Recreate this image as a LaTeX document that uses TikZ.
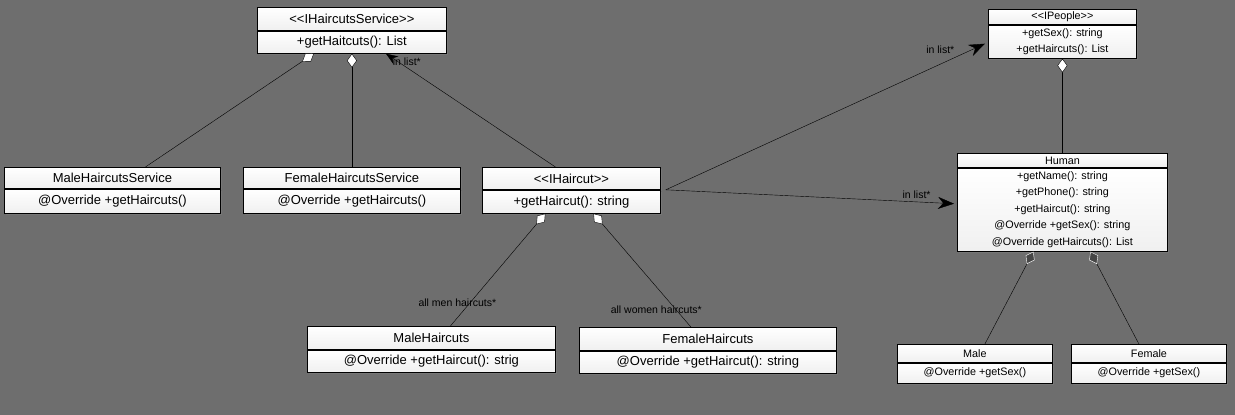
\documentclass[tikz,border=0pt]{standalone}
\usepackage{fontspec}
\setmainfont{Liberation Sans}
\usepackage{xcolor}
\usepackage{tikz}
\usetikzlibrary{arrows.meta,shadows,positioning}

\definecolor{bggray}{RGB}{110,110,110}
\definecolor{aggdark}{RGB}{70,70,70}

\tikzset{
  cls/.style={draw=black, line width=0.8pt, top color=white, bottom color=gray!12,
    inner sep=0pt, align=center, anchor=north west,
    drop shadow={opacity=0.55, shadow xshift=2pt, shadow yshift=-2pt}},
  bigtxt/.style={font=\fontsize{13}{15}\selectfont},
  smalltxt/.style={font=\fontsize{10.8}{16.5}\selectfont},
  lbl/.style={font=\fontsize{10.5}{12}\selectfont, inner sep=0pt},
  agg/.style={{Diamond[fill=white,length=14pt,width=10pt]}-, thin},
  aggfill/.style={{Diamond[fill=aggdark,color=white,length=14pt,width=10pt]}-, thin},
  inlist/.style={-{Stealth[length=16pt,width=12pt]}, thin},
  inlistsmall/.style={-{Stealth[length=12pt,width=9pt]}, thin}
}

\begin{document}
\begin{tikzpicture}[x=1pt,y=-1pt]
                \fill[bggray] (0,0) rectangle (1235,415);
                \useasboundingbox (0,0) rectangle (1235,415);

                % interfaces
                \node[cls, bigtxt, minimum width=189pt, minimum height=23pt] (ihs) at (257,7) {<{}<IHaircutsService>{}>};
                \node[cls, bigtxt, minimum width=189pt, minimum height=22pt] (ihsb) at (ihs.south west) {+getHaitcuts(): List};

                \node[cls, smalltxt, minimum width=148pt, minimum height=15pt] (ip) at (988,9) {<{}<IPeople>{}>};
                \node[cls, smalltxt, minimum width=148pt, minimum height=33pt] (ipb) at (ip.south west) {+getSex(): string\\+getHaircuts(): List};

                \node[cls, bigtxt, minimum width=178pt, minimum height=22pt] (ih) at (482,167) {<{}<IHaircut>{}>};
                \node[cls, bigtxt, minimum width=178pt, minimum height=23pt] (ihb) at (ih.south west) {+getHaircut(): string};

                % services
                \node[cls, bigtxt, minimum width=216pt, minimum height=21pt] (mhs) at (4,167) {MaleHaircutsService};
                \node[cls, bigtxt, minimum width=216pt, minimum height=24pt] (mhsb) at (mhs.south west) {@Override +getHaircuts()};

                \node[cls, bigtxt, minimum width=217pt, minimum height=21pt] (fhs) at (243,167) {FemaleHaircutsService};
                \node[cls, bigtxt, minimum width=217pt, minimum height=24pt] (fhsb) at (fhs.south west) {@Override +getHaircuts()};

                % haircuts
                \node[cls, bigtxt, minimum width=248pt, minimum height=23pt] (mh) at (307,326) {MaleHaircuts};
                \node[cls, bigtxt, minimum width=248pt, minimum height=22pt] (mhb) at (mh.south west) {@Override +getHaircut(): strig};

                \node[cls, bigtxt, minimum width=257pt, minimum height=23pt] (fh) at (579,327) {FemaleHaircuts};
                \node[cls, bigtxt, minimum width=257pt, minimum height=22pt] (fhb) at (fh.south west) {@Override +getHaircut(): string};

                % people
                \node[cls, smalltxt, minimum width=210pt, minimum height=14pt] (hu) at (957,153) {Human};
                \node[cls, smalltxt, minimum width=210pt, minimum height=83pt] (hub) at (hu.south west)
                  {+getName(): string\\+getPhone(): string\\+getHaircut(): string\\@Override +getSex(): string\\@Override getHaircuts(): List};

                \node[cls, smalltxt, minimum width=155pt, minimum height=18pt] (ma) at (897,344) {Male};
                \node[cls, smalltxt, minimum width=155pt, minimum height=20pt] (mab) at (ma.south west) {@Override +getSex()};

                \node[cls, smalltxt, minimum width=155pt, minimum height=18pt] (fe) at (1071,344) {Female};
                \node[cls, smalltxt, minimum width=155pt, minimum height=20pt] (feb) at (fe.south west) {@Override +getSex()};

                % connectors
                \draw[agg] ([xshift=-38pt]ihsb.south) -- ([xshift=33pt]mhs.north);
                \draw[agg] (ihsb.south) -- (fhs.north);
                \draw[inlistsmall] ([xshift=-16pt]ih.north) -- ([xshift=34pt]ihsb.south)
                  node[lbl, pos=0.93, xshift=9pt] {in list*};

                \draw[inlist] ([xshift=5pt]ih.south east) -- ([xshift=-3pt,yshift=-2pt]ipb.west)
                  node[lbl, pos=0.86, yshift=14pt] {in list*};
                \draw[inlist] ([xshift=5pt]ih.south east) -- ([xshift=-3pt,yshift=6pt]hub.west)
                  node[lbl, pos=0.87, yshift=7pt] {in list*};

                \draw[agg] ([xshift=-26pt]ihb.south) -- ([xshift=19pt]mh.north)
                  node[lbl, pos=0.79, xshift=-13pt] {all men haircuts*};
                \draw[agg] ([xshift=22pt]ihb.south) -- ([xshift=-17pt]fh.north)
                  node[lbl, pos=0.85, xshift=-20pt] {all women haircuts*};

                \draw[agg] (ipb.south) -- (hu.north);
                \draw[aggfill] ([xshift=-29pt]hub.south) -- ([xshift=10pt]ma.north);
                \draw[aggfill] ([xshift=28pt]hub.south) -- ([xshift=-10pt]fe.north);
\end{tikzpicture}
\end{document}
